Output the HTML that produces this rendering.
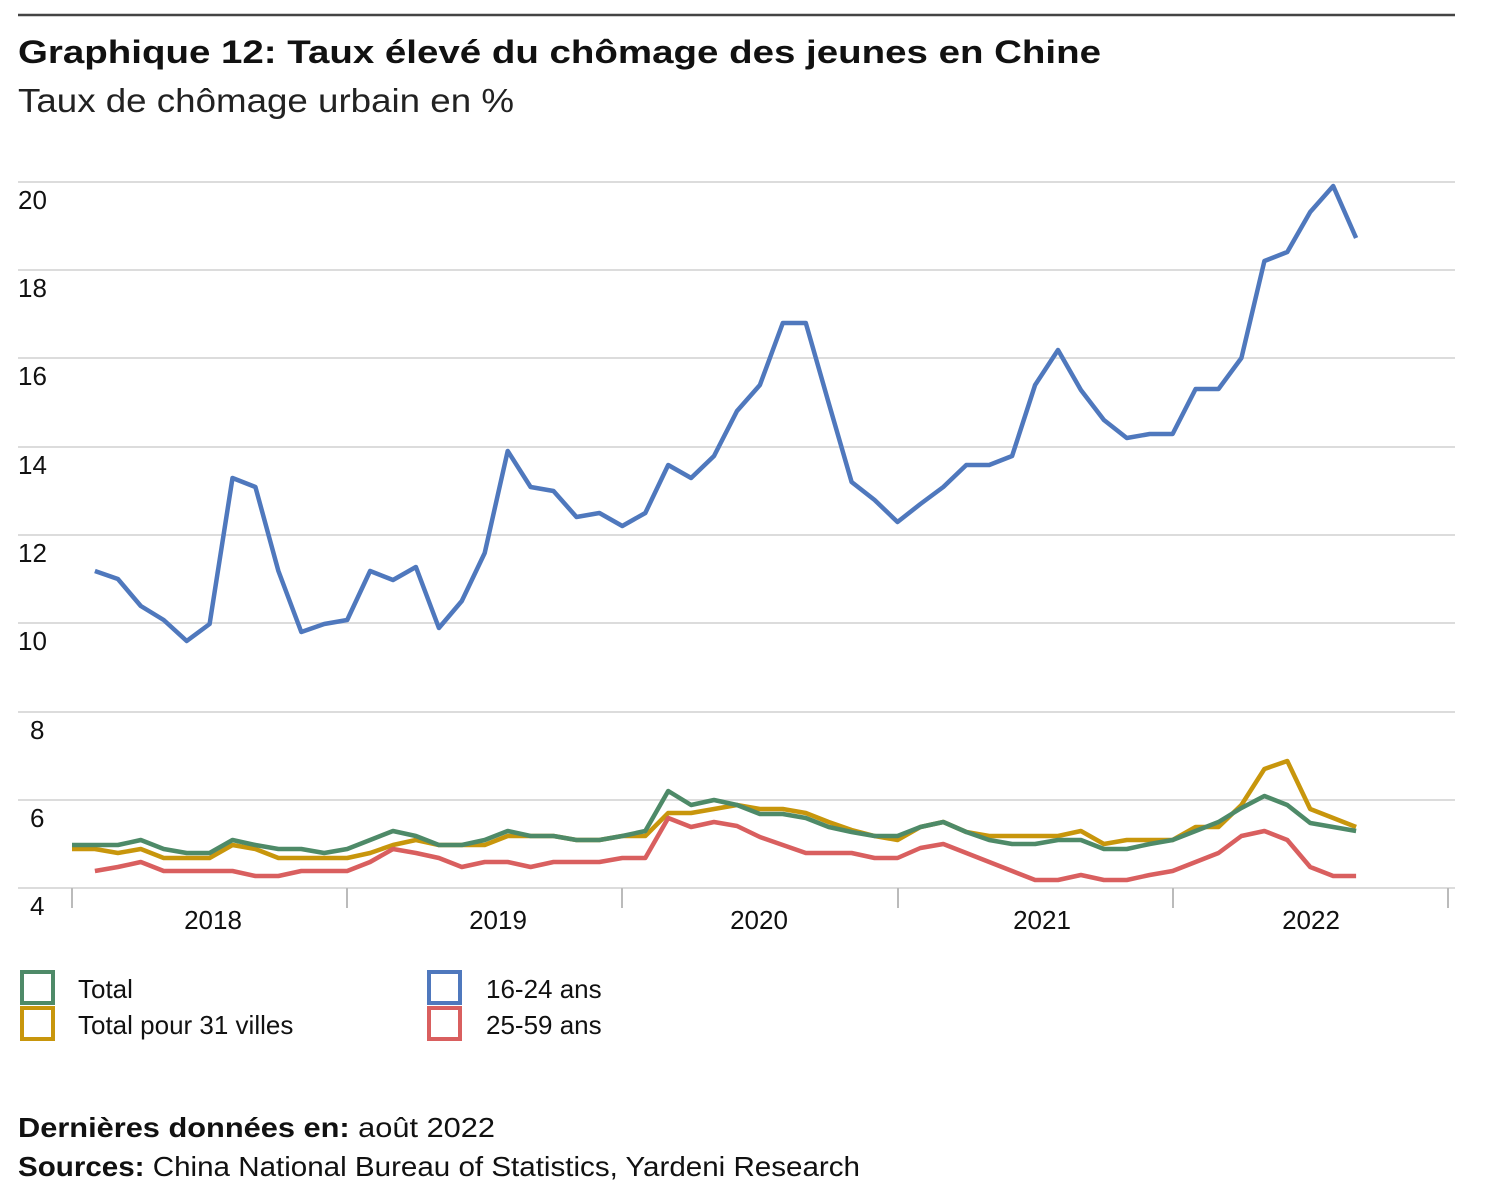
<!DOCTYPE html>
<html><head><meta charset="utf-8"><style>
html,body{margin:0;padding:0;background:#fff;}
svg{display:block;}
text{font-family:"Liberation Sans",Arial,sans-serif;fill:#111;}
</style></head><body>
<svg width="1496" height="1200" viewBox="0 0 1496 1200" xmlns="http://www.w3.org/2000/svg">
<line x1="18" y1="15" x2="1455" y2="15" stroke="#444" stroke-width="2.5"/>
<text x="18" y="63" font-size="32" font-weight="bold" textLength="1083" lengthAdjust="spacingAndGlyphs">Graphique 12: Taux élevé du chômage des jeunes en Chine</text>
<text x="18" y="112" font-size="33" textLength="496" lengthAdjust="spacingAndGlyphs" style="fill:#222">Taux de chômage urbain en %</text>
<g stroke="#dcdcdc" stroke-width="2">
<line x1="18" y1="182" x2="1455" y2="182"/><line x1="18" y1="270" x2="1455" y2="270"/>
<line x1="18" y1="358" x2="1455" y2="358"/><line x1="18" y1="447" x2="1455" y2="447"/>
<line x1="18" y1="535" x2="1455" y2="535"/><line x1="18" y1="623" x2="1455" y2="623"/>
<line x1="18" y1="712" x2="1455" y2="712"/><line x1="18" y1="800" x2="1455" y2="800"/>
<line x1="18" y1="888" x2="1455" y2="888"/>
</g>
<g stroke="#bbb" stroke-width="2">
<line x1="72" y1="888" x2="72" y2="908"/><line x1="347" y1="888" x2="347" y2="908"/>
<line x1="622" y1="888" x2="622" y2="908"/><line x1="898" y1="888" x2="898" y2="908"/>
<line x1="1173" y1="888" x2="1173" y2="908"/><line x1="1448" y1="888" x2="1448" y2="908"/>
</g>
<g font-size="26" style="fill:#222">
<text x="18" y="209">20</text><text x="18" y="297">18</text><text x="18" y="385">16</text>
<text x="18" y="474">14</text><text x="18" y="562">12</text><text x="18" y="650">10</text>
<text x="30" y="739">8</text><text x="30" y="827">6</text><text x="30" y="915">4</text>
</g>
<g font-size="26" text-anchor="middle" style="fill:#222">
<text x="213" y="929">2018</text><text x="498" y="929">2019</text><text x="759" y="929">2020</text>
<text x="1042" y="929">2021</text><text x="1311" y="929">2022</text>
</g>
<g fill="none" stroke-width="4.5" stroke-linejoin="round">
<polyline id="gold" stroke="#c8960c" points="72.0,849 94.9,849 117.9,853 140.8,849 163.7,858 186.7,858 209.6,858 232.5,845 255.4,849 278.4,858 301.3,858 324.2,858 347.2,858 370.1,853 393.0,845 415.9,840 438.9,845 461.8,845 484.7,845 507.7,836 530.6,836 553.5,836 576.5,840 599.4,840 622.3,836 645.3,836 668.2,813 691.1,813 714.0,809 737.0,805 759.9,809 782.8,809 805.8,813 828.7,822 851.6,830 874.6,836 897.5,840 920.4,827 943.3,822 966.3,832 989.2,836 1012.1,836 1035.1,836 1058.0,836 1080.9,831 1103.9,844 1126.8,840 1149.7,840 1172.6,840 1195.6,827 1218.5,827 1241.4,805 1264.4,769 1287.3,761 1310.2,809 1333.2,818 1356.1,827"/>
<polyline id="green" stroke="#4e8a68" points="72.0,845 94.9,845 117.9,845 140.8,840 163.7,849 186.7,853 209.6,853 232.5,840 255.4,845 278.4,849 301.3,849 324.2,853 347.2,849 370.1,840 393.0,831 415.9,836 438.9,845 461.8,845 484.7,840 507.7,831 530.6,836 553.5,836 576.5,840 599.4,840 622.3,836 645.3,831 668.2,791 691.1,805 714.0,800 737.0,805 759.9,814 782.8,814 805.8,818 828.7,827 851.6,832 874.6,836 897.5,836 920.4,827 943.3,822 966.3,832 989.2,840 1012.1,844 1035.1,844 1058.0,840 1080.9,840 1103.9,849 1126.8,849 1149.7,844 1172.6,840 1195.6,831 1218.5,822 1241.4,808 1264.4,796 1287.3,805 1310.2,823 1333.2,827 1356.1,831"/>
<polyline id="red" stroke="#d95f5f" points="94.9,871 117.9,867 140.8,862 163.7,871 186.7,871 209.6,871 232.5,871 255.4,876 278.4,876 301.3,871 324.2,871 347.2,871 370.1,862 393.0,849 415.9,853 438.9,858 461.8,867 484.7,862 507.7,862 530.6,867 553.5,862 576.5,862 599.4,862 622.3,858 645.3,858 668.2,818 691.1,827 714.0,822 737.0,826 759.9,837 782.8,845 805.8,853 828.7,853 851.6,853 874.6,858 897.5,858 920.4,848 943.3,844 966.3,853 989.2,862 1012.1,871 1035.1,880 1058.0,880 1080.9,875 1103.9,880 1126.8,880 1149.7,875 1172.6,871 1195.6,862 1218.5,853 1241.4,836 1264.4,831 1287.3,840 1310.2,867 1333.2,876 1356.1,876"/>
<polyline id="blue" stroke="#4f78bd" points="94.9,571 117.9,579 140.8,606 163.7,620 186.7,641 209.6,624 232.5,478 255.4,487 278.4,571 301.3,632 324.2,624 347.2,620 370.1,571 393.0,580 415.9,567 438.9,628 461.8,601 484.7,553 507.7,451 530.6,487 553.5,491 576.5,517 599.4,513 622.3,526 645.3,513 668.2,465 691.1,478 714.0,456 737.0,411 759.9,385 782.8,323 805.8,323 828.7,403 851.6,482 874.6,500 897.5,522 920.4,504 943.3,487 966.3,465 989.2,465 1012.1,456 1035.1,385 1058.0,350 1080.9,390 1103.9,420 1126.8,438 1149.7,434 1172.6,434 1195.6,389 1218.5,389 1241.4,358 1264.4,261 1287.3,252 1310.2,212 1333.2,186 1356.1,238"/>
</g>
<g fill="none" stroke-width="4">
<rect x="22" y="972" width="31" height="31" stroke="#4e8a68"/>
<rect x="22" y="1008" width="31" height="31" stroke="#c8960c"/>
<rect x="429" y="972" width="31" height="31" stroke="#4f78bd"/>
<rect x="429" y="1008" width="31" height="31" stroke="#d95f5f"/>
</g>
<g font-size="26" style="fill:#222">
<text x="78" y="998">Total</text><text x="78" y="1034">Total pour 31 villes</text>
<text x="486" y="998">16-24 ans</text><text x="486" y="1034">25-59 ans</text>
</g>
<text x="18" y="1137" font-size="28" textLength="477" lengthAdjust="spacingAndGlyphs"><tspan font-weight="bold">Dernières données en:</tspan> août 2022</text>
<text x="18" y="1176" font-size="28" textLength="842" lengthAdjust="spacingAndGlyphs"><tspan font-weight="bold">Sources:</tspan> China National Bureau of Statistics, Yardeni Research</text>
</svg>
</body></html>
